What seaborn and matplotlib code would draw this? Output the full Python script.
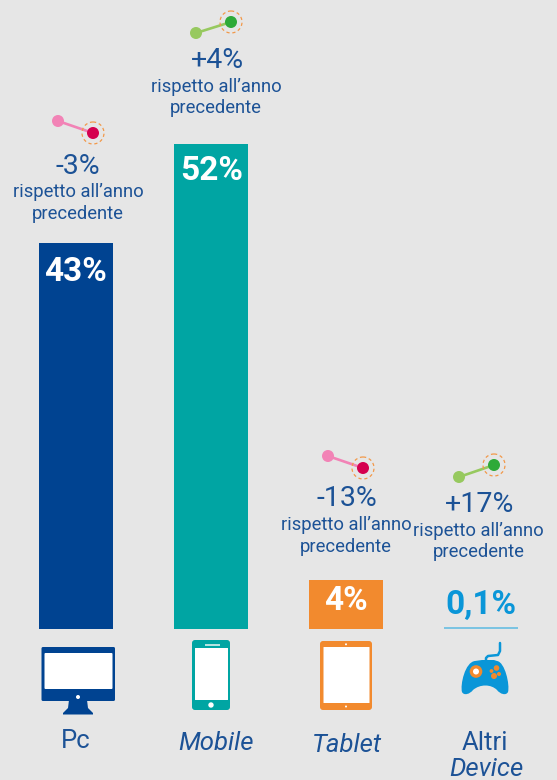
import numpy as np
import pandas as pd
import matplotlib
matplotlib.use("Agg")
import matplotlib.pyplot as plt
from matplotlib.patches import FancyBboxPatch, Circle, Rectangle, Polygon, PathPatch
from matplotlib.path import Path
import seaborn as sns

categories = ["Pc", "Mobile", "Tablet", "Altri Device"]
bar_heights = [43.0, 54.0, 5.4, 0.15]   # heights as drawn in the picture
share_labels = ["43%", "52%", "4%", "0,1%"]
change_labels = ["-3%", "+4%", "-13%", "+17%"]
bar_colors = ["#004391", "#00A5A3", "#F28A2E", "#7CC4E2"]

BG = "#E6E6E6"
TXT = "#1C5296"
W, H = 557, 780
BASE_PX, PX_PER_UNIT = 628.5, 8.97

sns.set_theme(style="white")
fig = plt.figure(figsize=(W / 100, H / 100), dpi=100, facecolor=BG)
ax = fig.add_axes([0, 0, 1, 1], facecolor=BG)
df = pd.DataFrame({"cat": categories, "val": bar_heights})
sns.barplot(data=df, x="cat", y="val", hue="cat", palette=bar_colors, width=74 / 135,
            saturation=1, legend=False, edgecolor="none", linewidth=0, ax=ax)
ax.set_xlim(-76 / 135, (W - 76) / 135)
ax.set_ylim(-(H - BASE_PX) / PX_PER_UNIT, BASE_PX / PX_PER_UNIT)
ax.axis("off")

ov = fig.add_axes([0, 0, 1, 1], facecolor="none")
ov.set_xlim(0, W)
ov.set_ylim(H, 0)
ov.axis("off")

BASE = ["Roboto", "DejaVu Sans"]


def t(x, y, s, size, fam=BASE, color=TXT, **kw):
    ov.text(x, y, s, fontsize=size, family=fam, color=color, ha="center", va="center", **kw)


# share labels
share_pos = [(75, 272), (212, 171), (346, 601), (481, 605)]
share_cols = ["white", "white", "white", "#0A96D8"]
for (x, y), s, c in zip(share_pos, share_labels, share_cols):
    t(x, y, s, 24, BASE, c, fontweight="bold")

# change captions
change_pos = [(78, 166), (217, 60), (347, 499), (480, 504)]
line1 = [(78, 192), (216, 87), (346, 525), (478, 531)]
line2 = [(78, 214), (216, 108), (346, 547), (479, 552)]
for (x, y), s, a, b in zip(change_pos, change_labels, line1, line2):
    t(x, y, s, 20.5)
    t(a[0], a[1], "rispetto all’anno", 13.2)
    t(b[0], b[1], "precedente", 13.2)

# connectors
conn = [((58, 121), (93, 133), "#F283B6", "#D5004F"),
        ((196, 33), (231, 22), "#97C95F", "#2EAA38"),
        ((328, 456), (363, 468), "#F283B6", "#D5004F"),
        ((459, 477), (494, 465), "#97C95F", "#2EAA38")]
for p0, p1, c0, c1 in conn:
    ov.plot([p0[0], p1[0]], [p0[1], p1[1]], color=c0, lw=1.9, zorder=3, solid_capstyle="round")
    ov.add_patch(Circle(p0, 6, fc=c0, ec="none", zorder=4))
    ov.add_patch(Circle(p1, 6, fc=c1, ec="none", zorder=4))
    ov.add_patch(Circle(p1, 11, fc="none", ec="#F2994A", lw=0.9, ls=(0, (2.6, 2.2)), zorder=4))

# category names
t(76, 741, "Pc", 18.5)
t(216, 743, "Mobile", 18.5, style="italic")
t(347, 745, "Tablet", 18.5, style="italic")
t(485, 743, "Altri", 18.5)
t(486, 769, "Device", 18.5, style="italic")


def rbox(x0, y0, x1, y1, r, fc, z=3):
    ov.add_patch(FancyBboxPatch((x0 + r, y0 + r), x1 - x0 - 2 * r, y1 - y0 - 2 * r,
                                boxstyle=f"round,pad={r},rounding_size={r}",
                                fc=fc, ec="none", zorder=z))


# monitor
rbox(41.5, 647, 115, 701, 1.5, bar_colors[0])
rbox(44.5, 653, 112.5, 689, 1, "white", 4)
ov.add_patch(Circle((78, 697), 2, fc="white", ec="none", zorder=4))
ov.add_patch(Polygon([(69, 700), (87, 700), (88, 708), (93, 713), (93, 714.5), (63, 714.5), (63, 713), (68, 708)],
                     fc=bar_colors[0], ec="none", zorder=3))
# phone
rbox(192, 640, 230, 710, 3, bar_colors[1])
rbox(195, 648, 228, 700, 0.3, "white", 4)
ov.add_patch(Rectangle((205, 644.3), 15, 1.5, fc="#B5E3E0", ec="none", zorder=4))
ov.add_patch(Circle((211, 705), 2.7, fc="white", ec="none", zorder=4))
# tablet
rbox(320, 641, 372, 710, 3, bar_colors[2])
rbox(323.5, 647, 369.5, 703, 0.3, "white", 4)
for yy in (644.3, 706.5):
    ov.add_patch(Circle((346, yy), 1, fc="white", ec="none", zorder=4))
# gamepad
GP = "#0A96D8"
verts = [(475, 661), (482, 660), (494, 660), (497, 661),
         (505, 662), (510, 685), (508, 692),
         (506, 696), (500, 694), (497, 690),
         (491, 684), (480, 684), (473, 690),
         (470, 694), (464, 696), (462, 692),
         (460, 685), (465, 662), (475, 661), (475, 661)]
codes = [Path.MOVETO, Path.LINETO, Path.LINETO, Path.LINETO,
         Path.CURVE4, Path.CURVE4, Path.CURVE4,
         Path.CURVE4, Path.CURVE4, Path.CURVE4,
         Path.CURVE4, Path.CURVE4, Path.CURVE4,
         Path.CURVE4, Path.CURVE4, Path.CURVE4,
         Path.CURVE4, Path.CURVE4, Path.CURVE4, Path.CLOSEPOLY]
ov.add_patch(PathPatch(Path(verts, codes), fc=GP, ec="none", zorder=3))
ov.plot([500, 500, 498, 488, 486, 486], [643, 651, 655, 656, 658, 663], color=GP, lw=1.8, zorder=3)
ov.add_patch(Circle((476, 671.5), 6.3, fc="#F28A2E", ec="none", zorder=4))
ov.add_patch(Circle((476, 671.5), 3, fc="white", ec="none", zorder=5))
for cx, cy, r in [(496.5, 668, 2.8), (491.5, 671, 1.9), (499, 674, 2), (494, 676, 3)]:
    ov.add_patch(Circle((cx, cy), r, fc="#F28A2E", ec="none", zorder=4))

fig.savefig("out.png", dpi=100, facecolor=BG)
